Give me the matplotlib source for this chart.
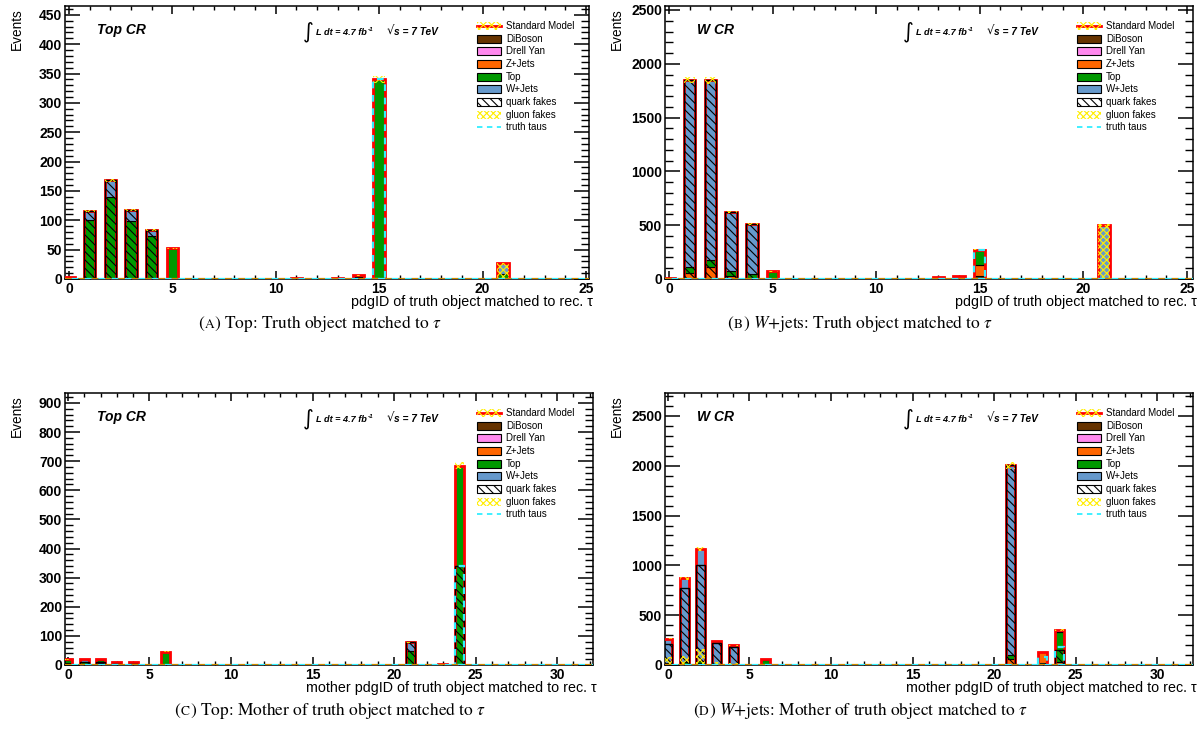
import matplotlib
matplotlib.use('Agg')
import matplotlib.pyplot as plt
import matplotlib.patches as mpatches
from matplotlib.lines import Line2D
from matplotlib.ticker import MultipleLocator
import numpy as np

plt.rcParams['font.family'] = ['Liberation Sans', 'DejaVu Sans']
plt.rcParams['mathtext.fontset'] = 'stix'
plt.rcParams['hatch.linewidth'] = 0.8

W, H = 1203, 743
fig = plt.figure(figsize=(W / 100, H / 100), dpi=100)
fig.patch.set_facecolor('white')
renderer = fig.canvas.get_renderer()

# ── sample colours ────────────────────────────────────────────────────────────
STACK_NAMES = ['DiBoson', 'Drell Yan', 'Z+Jets', 'Top', 'W+Jets']
STACK_COLORS = ['#663300', '#ff88ee', '#ff6600', '#009900', '#6699cc']
SM_RED = '#ff0000'
GLUON_YEL = '#ffee00'
TAU_CYAN = '#33eeff'

# ── (a) Top CR, pdgID of matched truth object ────────────────────────────────
a_bins = [0, 1, 2, 3, 4, 5, 11, 13, 14, 15, 21]
a_diboson = [0, 0, 0, 0, 0, 0, 0, 0, 0, 0, 0]
a_dy = [0, 0, 0, 0, 0, 0, 0, 0, 0, 0, 0]
a_zjets = [3, 0, 0, 0, 0, 0, 2, 2, 3, 0, 0]
a_top = [0, 100, 140, 98, 73, 52, 0, 0, 3, 340, 8]
a_wjets = [0, 16, 28, 20, 10, 0, 0, 0, 0, 0, 19]
a_quark = [0, 116, 168, 118, 83, 0, 0, 0, 0, 0, 0]
a_gluon = [0, 0, 0, 0, 0, 0, 0, 0, 0, 0, 27]
a_taus = [0, 0, 0, 0, 0, 0, 0, 0, 0, 340, 0]

# ── (b) W CR, pdgID of matched truth object ──────────────────────────────────
b_bins = [0, 1, 2, 3, 4, 5, 13, 14, 15, 21]
b_diboson = [0, 0, 0, 0, 0, 0, 0, 0, 30, 0]
b_dy = [0, 0, 0, 0, 0, 0, 0, 0, 0, 0]
b_zjets = [5, 55, 115, 25, 5, 5, 15, 10, 100, 0]
b_top = [0, 60, 65, 45, 45, 65, 0, 0, 140, 10]
b_wjets = [0, 1735, 1665, 552, 465, 0, 0, 15, 0, 490]
b_quark = [0, 1850, 1845, 622, 515, 0, 0, 0, 0, 0]
b_gluon = [0, 0, 0, 0, 0, 0, 0, 0, 0, 500]
b_taus = [0, 0, 0, 0, 0, 0, 0, 0, 270, 0]

# ── (c) Top CR, mother pdgID ─────────────────────────────────────────────────
c_bins = [0, 1, 2, 3, 4, 5, 6, 21, 23, 24]
c_diboson = [0, 0, 6, 2, 2, 0, 0, 0, 0, 0]
c_dy = [0, 0, 0, 0, 0, 0, 0, 0, 0, 0]
c_zjets = [6, 4, 4, 3, 2, 1, 0, 0, 5, 0]
c_top = [10, 6, 6, 5, 5, 0, 46, 49, 0, 685]
c_wjets = [3, 10, 4, 1, 1, 0, 0, 29, 0, 0]
c_quark = [0, 12, 10, 5, 4, 0, 0, 78, 0, 340]
c_gluon = [4, 3, 3, 2, 1, 0, 0, 0, 0, 0]
c_taus = [0, 0, 0, 0, 0, 0, 0, 0, 0, 340]

# ── (d) W CR, mother pdgID ───────────────────────────────────────────────────
d_bins = [0, 1, 2, 3, 4, 6, 21, 23, 24]
d_diboson = [0, 0, 0, 0, 0, 0, 0, 25, 15]
d_dy = [0, 0, 0, 0, 0, 0, 0, 0, 0]
d_zjets = [10, 15, 25, 5, 3, 5, 60, 105, 20]
d_top = [10, 15, 20, 5, 4, 50, 40, 0, 295]
d_wjets = [242, 839, 1118, 230, 190, 2, 1906, 0, 21]
d_quark = [210, 769, 1003, 224, 185, 0, 2006, 0, 150]
d_gluon = [77, 94, 160, 27, 17, 0, 0, 0, 0]
d_taus = [0, 0, 0, 0, 0, 0, 0, 85, 180]

XLABEL_A = 'pdgID of truth object matched to rec. \u03c4'
XLABEL_M = 'mother pdgID of truth object matched to rec. \u03c4'

BW = 0.55  # bar width in bin units


def fx(x):
    return x / W


def fy(y):
    return 1 - y / H


def text_run(x, y, pieces, center=False):
    """Draw text pieces one after another on a common baseline (pixels)."""
    arts = []
    cx = x
    for s, kw, dy, gap in pieces:
        cx += gap
        t = fig.text(fx(cx), fy(y + dy), s, ha='left', va='baseline', **kw)
        cx = t.get_window_extent(renderer).x1
        arts.append(t)
    if center:
        shift = (cx - x) / 2
        for t in arts:
            px, py = t.get_position()
            t.set_position((px - shift / W, py))
    return arts


def draw_panel(box, bins, stack, quark, gluon, taus, xlim, ylim,
               ymaj, ymin, region, xlabel):
    l, t, r, b = box
    ax = fig.add_axes([fx(l), fy(b), (r - l) / W, (b - t) / H])
    bins = np.asarray(bins, float)

    bottom = np.zeros(len(bins))
    for vals, col in zip(stack, STACK_COLORS):
        vals = np.asarray(vals, float)
        m = vals > 0
        ax.bar(bins[m], vals[m], width=BW, bottom=bottom[m], color=col,
               edgecolor='black', linewidth=0.8, zorder=2)
        bottom += vals
    total = bottom
    m = total > 0
    # Standard Model outline
    ax.bar(bins[m], total[m], width=BW, fill=False, edgecolor=SM_RED,
           linewidth=2.0, zorder=3)
    # quark fakes
    q = np.asarray(quark, float)
    mq = q > 0
    ax.bar(bins[mq], q[mq], width=BW, fill=False, hatch='\\\\\\\\',
           edgecolor='black', linewidth=1.0, zorder=4)
    # gluon fakes
    g = np.asarray(gluon, float)
    mg = g > 0
    ax.bar(bins[mg], g[mg], width=BW, facecolor='none', hatch='xxxxx',
           edgecolor=GLUON_YEL, linewidth=0.0, zorder=4)
    # SM uncertainty band
    ax.bar(bins[m], total[m] * 0.034, bottom=total[m] * 0.983, width=BW,
           facecolor='none', hatch='xxxx', edgecolor=GLUON_YEL,
           linewidth=0.0, zorder=5)
    # truth taus
    tt = np.asarray(taus, float)
    mt = tt > 0
    ax.bar(bins[mt], tt[mt], width=BW, fill=False, edgecolor=TAU_CYAN,
           linestyle=(0, (3, 3)), linewidth=1.6, zorder=6)

    # empty bins along the baseline
    ax.axhline(0, color='#cc8a00', lw=1.6, ls=(0, (3, 3)), zorder=7)
    ax.axhline(0, color=TAU_CYAN, lw=1.6, ls=(3, (3, 3)), zorder=7)

    ax.set_xlim(*xlim)
    ax.set_ylim(*ylim)
    ax.xaxis.set_major_locator(MultipleLocator(5))
    ax.xaxis.set_minor_locator(MultipleLocator(1))
    ax.yaxis.set_major_locator(MultipleLocator(ymaj))
    ax.yaxis.set_minor_locator(MultipleLocator(ymin))
    ax.tick_params(axis='both', which='both', direction='in',
                   top=True, right=True, labelsize=10, pad=2)
    ax.tick_params(axis='y', which='major', length=10.8, width=1.1)
    ax.tick_params(axis='y', which='minor', length=5.8, width=1.0)
    ax.tick_params(axis='x', which='major', length=5.8, width=1.1)
    ax.tick_params(axis='x', which='minor', length=3.0, width=1.0)
    for lab in ax.get_xticklabels() + ax.get_yticklabels():
        lab.set_fontweight('bold')
    for sp in ax.spines.values():
        sp.set_linewidth(1.1)

    # axis titles (right/top aligned, ROOT style)
    fig.text(fx(r + 4), fy(b + 16), xlabel, ha='right', va='top',
             fontsize=10.3)
    fig.text(fx(l - 48), fy(t + 2), 'Events', ha='center', va='top',
             rotation=90, fontsize=9.8)

    # region label and luminosity
    fig.text(fx(l + 32), fy(t + 24), region, ha='left', va='center',
             fontsize=10, fontweight='bold', style='italic')
    fig.text(fx(l + 238), fy(t + 26), '\u222b', ha='left', va='center',
             fontsize=15, family='DejaVu Sans')
    bi = dict(fontweight='bold', style='italic')
    text_run(l + 251, t + 29, [
        ('L dt = 4.7 fb', dict(fontsize=6.6, **bi), 0, 0),
        ('-1', dict(fontsize=4.6, **bi), -4, 1),
    ])
    text_run(l + 322, t + 29, [
        ('\u221a', dict(fontsize=8.5, family='DejaVu Sans'), 0, 0),
        ('s = 7 TeV', dict(fontsize=7.3, **bi), 0, 0),
    ])

    # legend
    lx0, lx1, ltx = l + 412, l + 436, l + 441
    ly0, dly = t + 20, 12.65
    for i, name in enumerate(['Standard Model'] + STACK_NAMES +
                             ['quark fakes', 'gluon fakes', 'truth taus']):
        yy = ly0 + i * dly
        rect_kw = dict(transform=fig.transFigure, zorder=5)
        xy = (fx(lx0), fy(yy + 4))
        w, h = (lx1 - lx0) / W, 8 / H
        if name == 'Standard Model':
            fig.add_artist(mpatches.Rectangle(xy, w, h, facecolor='none',
                           hatch='xxxx', edgecolor=GLUON_YEL, lw=0,
                           **rect_kw))
            fig.add_artist(Line2D([fx(lx0), fx(lx1)], [fy(yy), fy(yy)],
                                  color=SM_RED, lw=2,
                                  transform=fig.transFigure))
        elif name in STACK_NAMES:
            col = STACK_COLORS[STACK_NAMES.index(name)]
            fig.add_artist(mpatches.Rectangle(xy, w, h, facecolor=col,
                           edgecolor='black', lw=0.8, **rect_kw))
        elif name == 'quark fakes':
            fig.add_artist(mpatches.Rectangle(xy, w, h, facecolor='white',
                           hatch='\\\\\\\\', edgecolor='black', lw=0.8,
                           **rect_kw))
        elif name == 'gluon fakes':
            fig.add_artist(mpatches.Rectangle(xy, w, h, facecolor='none',
                           hatch='xxxxx', edgecolor=GLUON_YEL, lw=0,
                           **rect_kw))
        else:
            fig.add_artist(Line2D([fx(lx0), fx(lx1)], [fy(yy), fy(yy)],
                                  color=TAU_CYAN, lw=1.3, ls=(0, (3, 2.5)),
                                  transform=fig.transFigure))
        fig.text(fx(ltx), fy(yy), name, ha='left', va='center', fontsize=7)
    return ax


draw_panel((65, 6, 589, 279), a_bins,
           [a_diboson, a_dy, a_zjets, a_top, a_wjets],
           a_quark, a_gluon, a_taus, (-0.19, 25.15), (0, 465), 50, 10,
           'Top CR', XLABEL_A)
draw_panel((665, 6, 1193, 279), b_bins,
           [b_diboson, b_dy, b_zjets, b_top, b_wjets],
           b_quark, b_gluon, b_taus, (-0.19, 25.29), (0, 2537), 500, 100,
           'W CR', XLABEL_A)
draw_panel((65, 393, 593, 665), c_bins,
           [c_diboson, c_dy, c_zjets, c_top, c_wjets],
           c_quark, c_gluon, c_taus, (-0.18, 32.2), (0, 934), 100, 20,
           'Top CR', XLABEL_M)
draw_panel((665, 393, 1193, 665), d_bins,
           [d_diboson, d_dy, d_zjets, d_top, d_wjets],
           d_quark, d_gluon, d_taus, (-0.18, 32.2), (0, 2730), 500, 100,
           'W CR', XLABEL_M)

# sub-figure captions, letters in small capitals
SERIF = ['STIXGeneral', 'DejaVu Serif']
captions = [
    (320, 328, 'A', ') Top: Truth object matched to $\\tau$'),
    (860, 328, 'B', ') $W$+jets: Truth object matched to $\\tau$'),
    (330, 715, 'C', ') Top: Mother of truth object matched to $\\tau$'),
    (860, 715, 'D', ') $W$+jets: Mother of truth object matched to $\\tau$'),
]
for cx, cy, letter, rest in captions:
    text_run(cx, cy, [
        ('(', dict(fontsize=12.5, family=SERIF), 0, 0),
        (letter, dict(fontsize=9.6, family=SERIF), 0, 0.3),
        (rest, dict(fontsize=12.5, family=SERIF), 0, 0.3),
    ], center=True)

fig.savefig('out.png', dpi=100, facecolor='white')
plt.close(fig)
